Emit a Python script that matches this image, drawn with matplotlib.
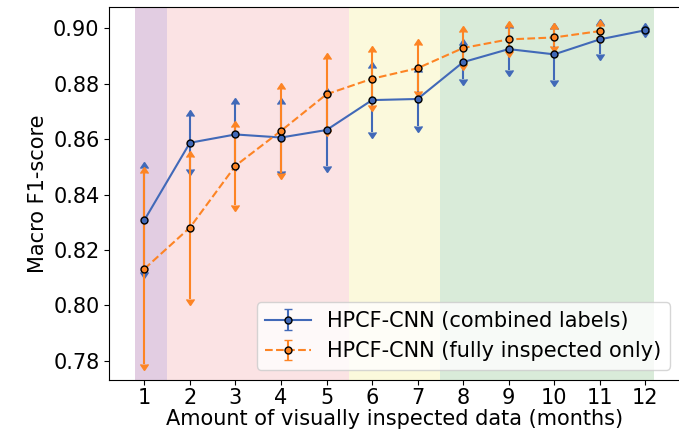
import numpy as np
from matplotlib import pyplot as plt
from matplotlib import lines as mlines

months = np.arange(1, 13)
months_full = np.arange(1, 12)

# HPCF-CNN (combined labels)
comb_mean = [0.8308, 0.8587, 0.8617, 0.8606, 0.8633, 0.8741, 0.8745, 0.8878, 0.8925, 0.8906, 0.8960, 0.8993]
comb_err = [0.0188, 0.0095, 0.0110, 0.0120, 0.0129, 0.0116, 0.0098, 0.0060, 0.0076, 0.0091, 0.0051, 0.0003]

# HPCF-CNN (fully inspected only)
full_mean = [0.8132, 0.8281, 0.8504, 0.8630, 0.8762, 0.8818, 0.8856, 0.8929, 0.8960, 0.8967, 0.8990]
full_err = [0.0345, 0.0256, 0.0140, 0.0151, 0.0128, 0.0096, 0.0084, 0.0056, 0.0043, 0.0031, 0.0020]

# background regions
span_edges = [0.8, 1.5, 5.5, 7.5, 12.2]
span_colors = ["#e2cde2", "#fbe3e4", "#fbf9dc", "#d9ebd9"]

blue = "#4169b8"
orange = "#fd8424"

fig = plt.figure(figsize=(6.79, 4.32), dpi=100)
ax = fig.add_axes([0.161, 0.1204, 0.841, 0.8641])

for i in range(len(span_colors)):
    ax.axvspan(span_edges[i], span_edges[i + 1], color=span_colors[i], lw=0, zorder=0)


def arrow_errorbar(x, y, err, color, ls, label):
    eb = ax.errorbar(x, y, yerr=err, color=color, ls=ls, marker="o", markersize=5,
                     markeredgecolor="black", markerfacecolor=color,
                     capsize=3, lw=1.5, label=label)
    low, high = eb[1]
    low.set_marker(mlines.CARETDOWNBASE)
    high.set_marker(mlines.CARETUPBASE)
    return eb


arrow_errorbar(months, comb_mean, comb_err, blue, "-", "HPCF-CNN (combined labels)")
arrow_errorbar(months_full, full_mean, full_err, orange, "--", "HPCF-CNN (fully inspected only)")

ax.set_ylim(0.7731, 0.9078)
ax.set_xticks(months)
ax.tick_params(labelsize=15)
ax.tick_params(axis="x", pad=2.5)
ax.set_xlabel("Amount of visually inspected data (months)", fontsize=15, labelpad=0.5)
ax.set_ylabel("Macro F1-score", fontsize=15)
ax.legend(loc="lower right", fontsize=15, handlelength=2.2)

fig.savefig("out.png")
